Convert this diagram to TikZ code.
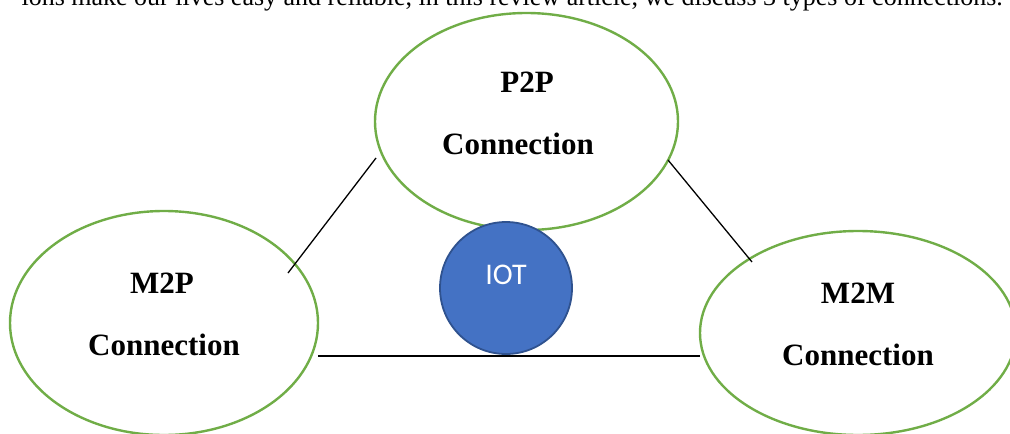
\documentclass[tikz,border=0pt]{standalone}
\usepackage{fontspec}
\setmainfont{Liberation Serif}
\newfontfamily\calib{Carlito}
\usetikzlibrary{shapes.geometric}
\definecolor{gr}{HTML}{70AD47}
\definecolor{bl}{HTML}{4472C4}
\definecolor{bld}{HTML}{2F528F}
\tikzset{
  oval/.style={ellipse, draw=gr, line width=2.4pt, inner sep=0pt},
  lbl/.style={anchor=base, font=\fontsize{31}{31}\selectfont\bfseries},
  conn/.style={draw=black, line width=1.3pt},
}
\begin{document}
\begin{tikzpicture}[x=1pt,y=-1pt]
\useasboundingbox (0,0) rectangle (1010,434);
\begin{scope}
\clip (0,0) rectangle (1010,434);
\node[anchor=base east, inner sep=0pt, font=\fontsize{26}{26}\selectfont] (top) at (1003,5) {ions make our lives easy and reliable, in this review article, we discuss 3 types of connections.};
\node[oval, minimum width=303pt, minimum height=217pt] (p2p) at (526.5,121.5) {};
\node[oval, minimum width=308pt, minimum height=224pt] (m2p) at (164,323) {};
\node[oval, minimum width=316pt, minimum height=204pt] (m2m) at (858,333) {};
\end{scope}
\node[lbl] (p2pa) at (527,92) {P2P};
\node[lbl] (p2pb) at (518,154) {Connection};
\node[lbl] (m2pa) at (162,293) {M2P};
\node[lbl] (m2pb) at (164,355) {Connection};
\node[lbl] (m2ma) at (858,303) {M2M};
\node[lbl] (m2mb) at (858,365) {Connection};
\coordinate (l1a) at (376,158);
\coordinate (l1b) at (288,273);
\coordinate (l2a) at (668,160);
\coordinate (l2b) at (752,262);
\coordinate (l3a) at (318,356);
\coordinate (l3b) at (700,356);
\draw[conn] (l1a) -- (l1b);
\draw[conn] (l2a) -- (l2b);
\draw[conn] (l3a) -- (l3b);
\node[circle, fill=bl, draw=bld, line width=1.8pt, minimum size=132pt, inner sep=0pt] (iot) at (506,288) {};
\node[anchor=base, text=white, font=\calib\fontsize{30}{30}\selectfont] (iotl) at (506,284) {IOT};
\end{tikzpicture}
\end{document}
